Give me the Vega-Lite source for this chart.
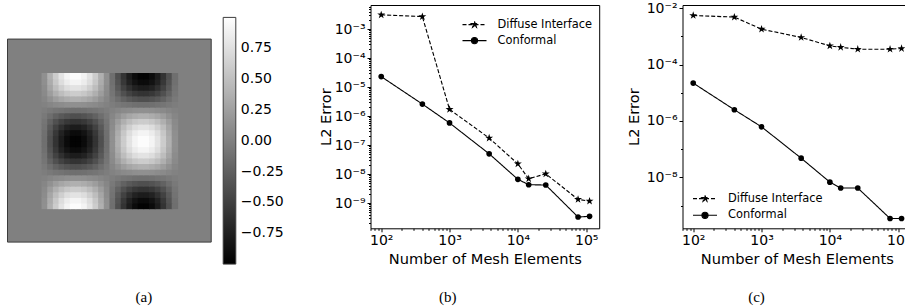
{
"$schema": "https://vega.github.io/schema/vega-lite/v6.json",
"background": "white",
"padding": {"left": 6.5, "top": 0, "right": 0, "bottom": 0},
"spacing": 83,
"bounds": "flush",
"resolve": {"scale": {"fill": "independent", "strokeDash": "independent", "opacity": "independent"}, "legend": {"fill": "independent", "strokeDash": "independent", "opacity": "independent"}},
"config": {
  "font": "DejaVu Sans",
  "view": {"stroke": "black", "strokeWidth": 1},
  "axis": {"grid": false, "domain": false, "tickColor": "black", "tickWidth": 1, "tickSize": 3.5, "labelFont": "DejaVu Sans", "labelFontSize": 14, "labelColor": "black", "labelPadding": 2, "titleFont": "DejaVu Sans", "titleFontSize": 14.6, "titleFontWeight": "normal", "titleColor": "black", "labelOverlap": false, "labelFlush": false},
  "title": {"font": "Liberation Serif", "fontSize": 15, "fontWeight": "normal", "color": "black"}
},
"datasets": {
"heat": [
{"i":0,"j":0,"v":0.13},{"i":1,"j":0,"v":0.38},{"i":2,"j":0,"v":0.6},{"i":3,"j":0,"v":0.78},{"i":4,"j":0,"v":0.91},{"i":5,"j":0,"v":0.98},{"i":6,"j":0,"v":0.98},{"i":7,"j":0,"v":0.91},{"i":8,"j":0,"v":0.78},{"i":9,"j":0,"v":0.6},{"i":10,"j":0,"v":0.38},{"i":11,"j":0,"v":0.13},{"i":12,"j":0,"v":-0.13},{"i":13,"j":0,"v":-0.38},{"i":14,"j":0,"v":-0.6},{"i":15,"j":0,"v":-0.78},{"i":16,"j":0,"v":-0.91},{"i":17,"j":0,"v":-0.98},{"i":18,"j":0,"v":-0.98},{"i":19,"j":0,"v":-0.91},{"i":20,"j":0,"v":-0.78},{"i":21,"j":0,"v":-0.6},{"i":22,"j":0,"v":-0.38},{"i":23,"j":0,"v":-0.13},
{"i":0,"j":1,"v":0.12},{"i":1,"j":1,"v":0.35},{"i":2,"j":1,"v":0.56},{"i":3,"j":1,"v":0.73},{"i":4,"j":1,"v":0.85},{"i":5,"j":1,"v":0.91},{"i":6,"j":1,"v":0.91},{"i":7,"j":1,"v":0.85},{"i":8,"j":1,"v":0.73},{"i":9,"j":1,"v":0.56},{"i":10,"j":1,"v":0.35},{"i":11,"j":1,"v":0.12},{"i":12,"j":1,"v":-0.12},{"i":13,"j":1,"v":-0.35},{"i":14,"j":1,"v":-0.56},{"i":15,"j":1,"v":-0.73},{"i":16,"j":1,"v":-0.85},{"i":17,"j":1,"v":-0.91},{"i":18,"j":1,"v":-0.91},{"i":19,"j":1,"v":-0.85},{"i":20,"j":1,"v":-0.73},{"i":21,"j":1,"v":-0.56},{"i":22,"j":1,"v":-0.35},{"i":23,"j":1,"v":-0.12},
{"i":0,"j":2,"v":0.1},{"i":1,"j":2,"v":0.3},{"i":2,"j":2,"v":0.48},{"i":3,"j":2,"v":0.62},{"i":4,"j":2,"v":0.73},{"i":5,"j":2,"v":0.78},{"i":6,"j":2,"v":0.78},{"i":7,"j":2,"v":0.73},{"i":8,"j":2,"v":0.62},{"i":9,"j":2,"v":0.48},{"i":10,"j":2,"v":0.3},{"i":11,"j":2,"v":0.1},{"i":12,"j":2,"v":-0.1},{"i":13,"j":2,"v":-0.3},{"i":14,"j":2,"v":-0.48},{"i":15,"j":2,"v":-0.62},{"i":16,"j":2,"v":-0.73},{"i":17,"j":2,"v":-0.78},{"i":18,"j":2,"v":-0.78},{"i":19,"j":2,"v":-0.73},{"i":20,"j":2,"v":-0.62},{"i":21,"j":2,"v":-0.48},{"i":22,"j":2,"v":-0.3},{"i":23,"j":2,"v":-0.1},
{"i":0,"j":3,"v":0.08},{"i":1,"j":3,"v":0.23},{"i":2,"j":3,"v":0.37},{"i":3,"j":3,"v":0.48},{"i":4,"j":3,"v":0.56},{"i":5,"j":3,"v":0.6},{"i":6,"j":3,"v":0.6},{"i":7,"j":3,"v":0.56},{"i":8,"j":3,"v":0.48},{"i":9,"j":3,"v":0.37},{"i":10,"j":3,"v":0.23},{"i":11,"j":3,"v":0.08},{"i":12,"j":3,"v":-0.08},{"i":13,"j":3,"v":-0.23},{"i":14,"j":3,"v":-0.37},{"i":15,"j":3,"v":-0.48},{"i":16,"j":3,"v":-0.56},{"i":17,"j":3,"v":-0.6},{"i":18,"j":3,"v":-0.6},{"i":19,"j":3,"v":-0.56},{"i":20,"j":3,"v":-0.48},{"i":21,"j":3,"v":-0.37},{"i":22,"j":3,"v":-0.23},{"i":23,"j":3,"v":-0.08},
{"i":0,"j":4,"v":0.05},{"i":1,"j":4,"v":0.14},{"i":2,"j":4,"v":0.23},{"i":3,"j":4,"v":0.3},{"i":4,"j":4,"v":0.35},{"i":5,"j":4,"v":0.38},{"i":6,"j":4,"v":0.38},{"i":7,"j":4,"v":0.35},{"i":8,"j":4,"v":0.3},{"i":9,"j":4,"v":0.23},{"i":10,"j":4,"v":0.14},{"i":11,"j":4,"v":0.05},{"i":12,"j":4,"v":-0.05},{"i":13,"j":4,"v":-0.14},{"i":14,"j":4,"v":-0.23},{"i":15,"j":4,"v":-0.3},{"i":16,"j":4,"v":-0.35},{"i":17,"j":4,"v":-0.38},{"i":18,"j":4,"v":-0.38},{"i":19,"j":4,"v":-0.35},{"i":20,"j":4,"v":-0.3},{"i":21,"j":4,"v":-0.23},{"i":22,"j":4,"v":-0.14},{"i":23,"j":4,"v":-0.05},
{"i":0,"j":5,"v":0.02},{"i":1,"j":5,"v":0.05},{"i":2,"j":5,"v":0.08},{"i":3,"j":5,"v":0.1},{"i":4,"j":5,"v":0.12},{"i":5,"j":5,"v":0.13},{"i":6,"j":5,"v":0.13},{"i":7,"j":5,"v":0.12},{"i":8,"j":5,"v":0.1},{"i":9,"j":5,"v":0.08},{"i":10,"j":5,"v":0.05},{"i":11,"j":5,"v":0.02},{"i":12,"j":5,"v":-0.02},{"i":13,"j":5,"v":-0.05},{"i":14,"j":5,"v":-0.08},{"i":15,"j":5,"v":-0.1},{"i":16,"j":5,"v":-0.12},{"i":17,"j":5,"v":-0.13},{"i":18,"j":5,"v":-0.13},{"i":19,"j":5,"v":-0.12},{"i":20,"j":5,"v":-0.1},{"i":21,"j":5,"v":-0.08},{"i":22,"j":5,"v":-0.05},{"i":23,"j":5,"v":-0.02},
{"i":0,"j":6,"v":-0.02},{"i":1,"j":6,"v":-0.05},{"i":2,"j":6,"v":-0.08},{"i":3,"j":6,"v":-0.1},{"i":4,"j":6,"v":-0.12},{"i":5,"j":6,"v":-0.13},{"i":6,"j":6,"v":-0.13},{"i":7,"j":6,"v":-0.12},{"i":8,"j":6,"v":-0.1},{"i":9,"j":6,"v":-0.08},{"i":10,"j":6,"v":-0.05},{"i":11,"j":6,"v":-0.02},{"i":12,"j":6,"v":0.02},{"i":13,"j":6,"v":0.05},{"i":14,"j":6,"v":0.08},{"i":15,"j":6,"v":0.1},{"i":16,"j":6,"v":0.12},{"i":17,"j":6,"v":0.13},{"i":18,"j":6,"v":0.13},{"i":19,"j":6,"v":0.12},{"i":20,"j":6,"v":0.1},{"i":21,"j":6,"v":0.08},{"i":22,"j":6,"v":0.05},{"i":23,"j":6,"v":0.02},
{"i":0,"j":7,"v":-0.05},{"i":1,"j":7,"v":-0.14},{"i":2,"j":7,"v":-0.23},{"i":3,"j":7,"v":-0.3},{"i":4,"j":7,"v":-0.35},{"i":5,"j":7,"v":-0.38},{"i":6,"j":7,"v":-0.38},{"i":7,"j":7,"v":-0.35},{"i":8,"j":7,"v":-0.3},{"i":9,"j":7,"v":-0.23},{"i":10,"j":7,"v":-0.14},{"i":11,"j":7,"v":-0.05},{"i":12,"j":7,"v":0.05},{"i":13,"j":7,"v":0.14},{"i":14,"j":7,"v":0.23},{"i":15,"j":7,"v":0.3},{"i":16,"j":7,"v":0.35},{"i":17,"j":7,"v":0.38},{"i":18,"j":7,"v":0.38},{"i":19,"j":7,"v":0.35},{"i":20,"j":7,"v":0.3},{"i":21,"j":7,"v":0.23},{"i":22,"j":7,"v":0.14},{"i":23,"j":7,"v":0.05},
{"i":0,"j":8,"v":-0.08},{"i":1,"j":8,"v":-0.23},{"i":2,"j":8,"v":-0.37},{"i":3,"j":8,"v":-0.48},{"i":4,"j":8,"v":-0.56},{"i":5,"j":8,"v":-0.6},{"i":6,"j":8,"v":-0.6},{"i":7,"j":8,"v":-0.56},{"i":8,"j":8,"v":-0.48},{"i":9,"j":8,"v":-0.37},{"i":10,"j":8,"v":-0.23},{"i":11,"j":8,"v":-0.08},{"i":12,"j":8,"v":0.08},{"i":13,"j":8,"v":0.23},{"i":14,"j":8,"v":0.37},{"i":15,"j":8,"v":0.48},{"i":16,"j":8,"v":0.56},{"i":17,"j":8,"v":0.6},{"i":18,"j":8,"v":0.6},{"i":19,"j":8,"v":0.56},{"i":20,"j":8,"v":0.48},{"i":21,"j":8,"v":0.37},{"i":22,"j":8,"v":0.23},{"i":23,"j":8,"v":0.08},
{"i":0,"j":9,"v":-0.1},{"i":1,"j":9,"v":-0.3},{"i":2,"j":9,"v":-0.48},{"i":3,"j":9,"v":-0.62},{"i":4,"j":9,"v":-0.73},{"i":5,"j":9,"v":-0.78},{"i":6,"j":9,"v":-0.78},{"i":7,"j":9,"v":-0.73},{"i":8,"j":9,"v":-0.62},{"i":9,"j":9,"v":-0.48},{"i":10,"j":9,"v":-0.3},{"i":11,"j":9,"v":-0.1},{"i":12,"j":9,"v":0.1},{"i":13,"j":9,"v":0.3},{"i":14,"j":9,"v":0.48},{"i":15,"j":9,"v":0.62},{"i":16,"j":9,"v":0.73},{"i":17,"j":9,"v":0.78},{"i":18,"j":9,"v":0.78},{"i":19,"j":9,"v":0.73},{"i":20,"j":9,"v":0.62},{"i":21,"j":9,"v":0.48},{"i":22,"j":9,"v":0.3},{"i":23,"j":9,"v":0.1},
{"i":0,"j":10,"v":-0.12},{"i":1,"j":10,"v":-0.35},{"i":2,"j":10,"v":-0.56},{"i":3,"j":10,"v":-0.73},{"i":4,"j":10,"v":-0.85},{"i":5,"j":10,"v":-0.91},{"i":6,"j":10,"v":-0.91},{"i":7,"j":10,"v":-0.85},{"i":8,"j":10,"v":-0.73},{"i":9,"j":10,"v":-0.56},{"i":10,"j":10,"v":-0.35},{"i":11,"j":10,"v":-0.12},{"i":12,"j":10,"v":0.12},{"i":13,"j":10,"v":0.35},{"i":14,"j":10,"v":0.56},{"i":15,"j":10,"v":0.73},{"i":16,"j":10,"v":0.85},{"i":17,"j":10,"v":0.91},{"i":18,"j":10,"v":0.91},{"i":19,"j":10,"v":0.85},{"i":20,"j":10,"v":0.73},{"i":21,"j":10,"v":0.56},{"i":22,"j":10,"v":0.35},{"i":23,"j":10,"v":0.12},
{"i":0,"j":11,"v":-0.13},{"i":1,"j":11,"v":-0.38},{"i":2,"j":11,"v":-0.6},{"i":3,"j":11,"v":-0.78},{"i":4,"j":11,"v":-0.91},{"i":5,"j":11,"v":-0.98},{"i":6,"j":11,"v":-0.98},{"i":7,"j":11,"v":-0.91},{"i":8,"j":11,"v":-0.78},{"i":9,"j":11,"v":-0.6},{"i":10,"j":11,"v":-0.38},{"i":11,"j":11,"v":-0.13},{"i":12,"j":11,"v":0.13},{"i":13,"j":11,"v":0.38},{"i":14,"j":11,"v":0.6},{"i":15,"j":11,"v":0.78},{"i":16,"j":11,"v":0.91},{"i":17,"j":11,"v":0.98},{"i":18,"j":11,"v":0.98},{"i":19,"j":11,"v":0.91},{"i":20,"j":11,"v":0.78},{"i":21,"j":11,"v":0.6},{"i":22,"j":11,"v":0.38},{"i":23,"j":11,"v":0.13},
{"i":0,"j":12,"v":-0.13},{"i":1,"j":12,"v":-0.38},{"i":2,"j":12,"v":-0.6},{"i":3,"j":12,"v":-0.78},{"i":4,"j":12,"v":-0.91},{"i":5,"j":12,"v":-0.98},{"i":6,"j":12,"v":-0.98},{"i":7,"j":12,"v":-0.91},{"i":8,"j":12,"v":-0.78},{"i":9,"j":12,"v":-0.6},{"i":10,"j":12,"v":-0.38},{"i":11,"j":12,"v":-0.13},{"i":12,"j":12,"v":0.13},{"i":13,"j":12,"v":0.38},{"i":14,"j":12,"v":0.6},{"i":15,"j":12,"v":0.78},{"i":16,"j":12,"v":0.91},{"i":17,"j":12,"v":0.98},{"i":18,"j":12,"v":0.98},{"i":19,"j":12,"v":0.91},{"i":20,"j":12,"v":0.78},{"i":21,"j":12,"v":0.6},{"i":22,"j":12,"v":0.38},{"i":23,"j":12,"v":0.13},
{"i":0,"j":13,"v":-0.12},{"i":1,"j":13,"v":-0.35},{"i":2,"j":13,"v":-0.56},{"i":3,"j":13,"v":-0.73},{"i":4,"j":13,"v":-0.85},{"i":5,"j":13,"v":-0.91},{"i":6,"j":13,"v":-0.91},{"i":7,"j":13,"v":-0.85},{"i":8,"j":13,"v":-0.73},{"i":9,"j":13,"v":-0.56},{"i":10,"j":13,"v":-0.35},{"i":11,"j":13,"v":-0.12},{"i":12,"j":13,"v":0.12},{"i":13,"j":13,"v":0.35},{"i":14,"j":13,"v":0.56},{"i":15,"j":13,"v":0.73},{"i":16,"j":13,"v":0.85},{"i":17,"j":13,"v":0.91},{"i":18,"j":13,"v":0.91},{"i":19,"j":13,"v":0.85},{"i":20,"j":13,"v":0.73},{"i":21,"j":13,"v":0.56},{"i":22,"j":13,"v":0.35},{"i":23,"j":13,"v":0.12},
{"i":0,"j":14,"v":-0.1},{"i":1,"j":14,"v":-0.3},{"i":2,"j":14,"v":-0.48},{"i":3,"j":14,"v":-0.62},{"i":4,"j":14,"v":-0.73},{"i":5,"j":14,"v":-0.78},{"i":6,"j":14,"v":-0.78},{"i":7,"j":14,"v":-0.73},{"i":8,"j":14,"v":-0.62},{"i":9,"j":14,"v":-0.48},{"i":10,"j":14,"v":-0.3},{"i":11,"j":14,"v":-0.1},{"i":12,"j":14,"v":0.1},{"i":13,"j":14,"v":0.3},{"i":14,"j":14,"v":0.48},{"i":15,"j":14,"v":0.62},{"i":16,"j":14,"v":0.73},{"i":17,"j":14,"v":0.78},{"i":18,"j":14,"v":0.78},{"i":19,"j":14,"v":0.73},{"i":20,"j":14,"v":0.62},{"i":21,"j":14,"v":0.48},{"i":22,"j":14,"v":0.3},{"i":23,"j":14,"v":0.1},
{"i":0,"j":15,"v":-0.08},{"i":1,"j":15,"v":-0.23},{"i":2,"j":15,"v":-0.37},{"i":3,"j":15,"v":-0.48},{"i":4,"j":15,"v":-0.56},{"i":5,"j":15,"v":-0.6},{"i":6,"j":15,"v":-0.6},{"i":7,"j":15,"v":-0.56},{"i":8,"j":15,"v":-0.48},{"i":9,"j":15,"v":-0.37},{"i":10,"j":15,"v":-0.23},{"i":11,"j":15,"v":-0.08},{"i":12,"j":15,"v":0.08},{"i":13,"j":15,"v":0.23},{"i":14,"j":15,"v":0.37},{"i":15,"j":15,"v":0.48},{"i":16,"j":15,"v":0.56},{"i":17,"j":15,"v":0.6},{"i":18,"j":15,"v":0.6},{"i":19,"j":15,"v":0.56},{"i":20,"j":15,"v":0.48},{"i":21,"j":15,"v":0.37},{"i":22,"j":15,"v":0.23},{"i":23,"j":15,"v":0.08},
{"i":0,"j":16,"v":-0.05},{"i":1,"j":16,"v":-0.14},{"i":2,"j":16,"v":-0.23},{"i":3,"j":16,"v":-0.3},{"i":4,"j":16,"v":-0.35},{"i":5,"j":16,"v":-0.38},{"i":6,"j":16,"v":-0.38},{"i":7,"j":16,"v":-0.35},{"i":8,"j":16,"v":-0.3},{"i":9,"j":16,"v":-0.23},{"i":10,"j":16,"v":-0.14},{"i":11,"j":16,"v":-0.05},{"i":12,"j":16,"v":0.05},{"i":13,"j":16,"v":0.14},{"i":14,"j":16,"v":0.23},{"i":15,"j":16,"v":0.3},{"i":16,"j":16,"v":0.35},{"i":17,"j":16,"v":0.38},{"i":18,"j":16,"v":0.38},{"i":19,"j":16,"v":0.35},{"i":20,"j":16,"v":0.3},{"i":21,"j":16,"v":0.23},{"i":22,"j":16,"v":0.14},{"i":23,"j":16,"v":0.05},
{"i":0,"j":17,"v":-0.02},{"i":1,"j":17,"v":-0.05},{"i":2,"j":17,"v":-0.08},{"i":3,"j":17,"v":-0.1},{"i":4,"j":17,"v":-0.12},{"i":5,"j":17,"v":-0.13},{"i":6,"j":17,"v":-0.13},{"i":7,"j":17,"v":-0.12},{"i":8,"j":17,"v":-0.1},{"i":9,"j":17,"v":-0.08},{"i":10,"j":17,"v":-0.05},{"i":11,"j":17,"v":-0.02},{"i":12,"j":17,"v":0.02},{"i":13,"j":17,"v":0.05},{"i":14,"j":17,"v":0.08},{"i":15,"j":17,"v":0.1},{"i":16,"j":17,"v":0.12},{"i":17,"j":17,"v":0.13},{"i":18,"j":17,"v":0.13},{"i":19,"j":17,"v":0.12},{"i":20,"j":17,"v":0.1},{"i":21,"j":17,"v":0.08},{"i":22,"j":17,"v":0.05},{"i":23,"j":17,"v":0.02},
{"i":0,"j":18,"v":0.02},{"i":1,"j":18,"v":0.05},{"i":2,"j":18,"v":0.08},{"i":3,"j":18,"v":0.1},{"i":4,"j":18,"v":0.12},{"i":5,"j":18,"v":0.13},{"i":6,"j":18,"v":0.13},{"i":7,"j":18,"v":0.12},{"i":8,"j":18,"v":0.1},{"i":9,"j":18,"v":0.08},{"i":10,"j":18,"v":0.05},{"i":11,"j":18,"v":0.02},{"i":12,"j":18,"v":-0.02},{"i":13,"j":18,"v":-0.05},{"i":14,"j":18,"v":-0.08},{"i":15,"j":18,"v":-0.1},{"i":16,"j":18,"v":-0.12},{"i":17,"j":18,"v":-0.13},{"i":18,"j":18,"v":-0.13},{"i":19,"j":18,"v":-0.12},{"i":20,"j":18,"v":-0.1},{"i":21,"j":18,"v":-0.08},{"i":22,"j":18,"v":-0.05},{"i":23,"j":18,"v":-0.02},
{"i":0,"j":19,"v":0.05},{"i":1,"j":19,"v":0.14},{"i":2,"j":19,"v":0.23},{"i":3,"j":19,"v":0.3},{"i":4,"j":19,"v":0.35},{"i":5,"j":19,"v":0.38},{"i":6,"j":19,"v":0.38},{"i":7,"j":19,"v":0.35},{"i":8,"j":19,"v":0.3},{"i":9,"j":19,"v":0.23},{"i":10,"j":19,"v":0.14},{"i":11,"j":19,"v":0.05},{"i":12,"j":19,"v":-0.05},{"i":13,"j":19,"v":-0.14},{"i":14,"j":19,"v":-0.23},{"i":15,"j":19,"v":-0.3},{"i":16,"j":19,"v":-0.35},{"i":17,"j":19,"v":-0.38},{"i":18,"j":19,"v":-0.38},{"i":19,"j":19,"v":-0.35},{"i":20,"j":19,"v":-0.3},{"i":21,"j":19,"v":-0.23},{"i":22,"j":19,"v":-0.14},{"i":23,"j":19,"v":-0.05},
{"i":0,"j":20,"v":0.08},{"i":1,"j":20,"v":0.23},{"i":2,"j":20,"v":0.37},{"i":3,"j":20,"v":0.48},{"i":4,"j":20,"v":0.56},{"i":5,"j":20,"v":0.6},{"i":6,"j":20,"v":0.6},{"i":7,"j":20,"v":0.56},{"i":8,"j":20,"v":0.48},{"i":9,"j":20,"v":0.37},{"i":10,"j":20,"v":0.23},{"i":11,"j":20,"v":0.08},{"i":12,"j":20,"v":-0.08},{"i":13,"j":20,"v":-0.23},{"i":14,"j":20,"v":-0.37},{"i":15,"j":20,"v":-0.48},{"i":16,"j":20,"v":-0.56},{"i":17,"j":20,"v":-0.6},{"i":18,"j":20,"v":-0.6},{"i":19,"j":20,"v":-0.56},{"i":20,"j":20,"v":-0.48},{"i":21,"j":20,"v":-0.37},{"i":22,"j":20,"v":-0.23},{"i":23,"j":20,"v":-0.08},
{"i":0,"j":21,"v":0.1},{"i":1,"j":21,"v":0.3},{"i":2,"j":21,"v":0.48},{"i":3,"j":21,"v":0.62},{"i":4,"j":21,"v":0.73},{"i":5,"j":21,"v":0.78},{"i":6,"j":21,"v":0.78},{"i":7,"j":21,"v":0.73},{"i":8,"j":21,"v":0.62},{"i":9,"j":21,"v":0.48},{"i":10,"j":21,"v":0.3},{"i":11,"j":21,"v":0.1},{"i":12,"j":21,"v":-0.1},{"i":13,"j":21,"v":-0.3},{"i":14,"j":21,"v":-0.48},{"i":15,"j":21,"v":-0.62},{"i":16,"j":21,"v":-0.73},{"i":17,"j":21,"v":-0.78},{"i":18,"j":21,"v":-0.78},{"i":19,"j":21,"v":-0.73},{"i":20,"j":21,"v":-0.62},{"i":21,"j":21,"v":-0.48},{"i":22,"j":21,"v":-0.3},{"i":23,"j":21,"v":-0.1},
{"i":0,"j":22,"v":0.12},{"i":1,"j":22,"v":0.35},{"i":2,"j":22,"v":0.56},{"i":3,"j":22,"v":0.73},{"i":4,"j":22,"v":0.85},{"i":5,"j":22,"v":0.91},{"i":6,"j":22,"v":0.91},{"i":7,"j":22,"v":0.85},{"i":8,"j":22,"v":0.73},{"i":9,"j":22,"v":0.56},{"i":10,"j":22,"v":0.35},{"i":11,"j":22,"v":0.12},{"i":12,"j":22,"v":-0.12},{"i":13,"j":22,"v":-0.35},{"i":14,"j":22,"v":-0.56},{"i":15,"j":22,"v":-0.73},{"i":16,"j":22,"v":-0.85},{"i":17,"j":22,"v":-0.91},{"i":18,"j":22,"v":-0.91},{"i":19,"j":22,"v":-0.85},{"i":20,"j":22,"v":-0.73},{"i":21,"j":22,"v":-0.56},{"i":22,"j":22,"v":-0.35},{"i":23,"j":22,"v":-0.12},
{"i":0,"j":23,"v":0.13},{"i":1,"j":23,"v":0.38},{"i":2,"j":23,"v":0.6},{"i":3,"j":23,"v":0.78},{"i":4,"j":23,"v":0.91},{"i":5,"j":23,"v":0.98},{"i":6,"j":23,"v":0.98},{"i":7,"j":23,"v":0.91},{"i":8,"j":23,"v":0.78},{"i":9,"j":23,"v":0.6},{"i":10,"j":23,"v":0.38},{"i":11,"j":23,"v":0.13},{"i":12,"j":23,"v":-0.13},{"i":13,"j":23,"v":-0.38},{"i":14,"j":23,"v":-0.6},{"i":15,"j":23,"v":-0.78},{"i":16,"j":23,"v":-0.91},{"i":17,"j":23,"v":-0.98},{"i":18,"j":23,"v":-0.98},{"i":19,"j":23,"v":-0.91},{"i":20,"j":23,"v":-0.78},{"i":21,"j":23,"v":-0.6},{"i":22,"j":23,"v":-0.38},{"i":23,"j":23,"v":-0.13}
],
"b": [
{"n":100,"e":3.1e-3,"m":"Diffuse Interface"},{"n":400,"e":2.7e-3,"m":"Diffuse Interface"},{"n":1000,"e":1.7e-6,"m":"Diffuse Interface"},{"n":3800,"e":1.75e-7,"m":"Diffuse Interface"},{"n":10000,"e":2.25e-8,"m":"Diffuse Interface"},{"n":14400,"e":6.9e-9,"m":"Diffuse Interface"},{"n":25600,"e":1.02e-8,"m":"Diffuse Interface"},{"n":76000,"e":1.34e-9,"m":"Diffuse Interface"},{"n":112000,"e":1.17e-9,"m":"Diffuse Interface"},
{"n":100,"e":2.3e-5,"m":"Conformal"},{"n":400,"e":2.6e-6,"m":"Conformal"},{"n":1000,"e":5.8e-7,"m":"Conformal"},{"n":3800,"e":5.0e-8,"m":"Conformal"},{"n":10000,"e":6.6e-9,"m":"Conformal"},{"n":14400,"e":4.3e-9,"m":"Conformal"},{"n":25600,"e":4.2e-9,"m":"Conformal"},{"n":76000,"e":3.3e-10,"m":"Conformal"},{"n":112000,"e":3.5e-10,"m":"Conformal"}
],
"c": [
{"n":100,"e":5.5e-3,"m":"Diffuse Interface"},{"n":400,"e":4.8e-3,"m":"Diffuse Interface"},{"n":1000,"e":1.8e-3,"m":"Diffuse Interface"},{"n":3800,"e":9.1e-4,"m":"Diffuse Interface"},{"n":10000,"e":4.6e-4,"m":"Diffuse Interface"},{"n":14400,"e":4.1e-4,"m":"Diffuse Interface"},{"n":25600,"e":3.5e-4,"m":"Diffuse Interface"},{"n":76000,"e":3.5e-4,"m":"Diffuse Interface"},{"n":112000,"e":3.7e-4,"m":"Diffuse Interface"},
{"n":100,"e":2.2e-5,"m":"Conformal"},{"n":400,"e":2.5e-6,"m":"Conformal"},{"n":1000,"e":6.2e-7,"m":"Conformal"},{"n":3800,"e":4.8e-8,"m":"Conformal"},{"n":10000,"e":6.8e-9,"m":"Conformal"},{"n":14400,"e":4.2e-9,"m":"Conformal"},{"n":25600,"e":4.2e-9,"m":"Conformal"},{"n":76000,"e":3.5e-10,"m":"Conformal"},{"n":112000,"e":3.5e-10,"m":"Conformal"}
]
},
"hconcat": [
{
 "width": 279.3, "height": 237.1,
 "view": {"stroke": null},
 "title": {"text": "(a)", "orient": "bottom", "frame": "group", "anchor": "middle", "dx": -3.3, "offset": 25},
 "layer": [
  {"data": {"values": [{"x0": -6, "x1": 30, "y0": -6, "y1": 30, "v": 0}]},
   "mark": {"type": "rect", "stroke": "#3c3c3c", "strokeWidth": 1},
   "encoding": {
     "x": {"field": "x0", "type": "quantitative", "scale": {"domain": [-6, 43.36], "nice": false, "zero": false}, "axis": null},
     "x2": {"field": "x1"},
     "y": {"field": "y0", "type": "quantitative", "scale": {"domain": [-6, 36.04], "nice": false, "zero": false}, "axis": null},
     "y2": {"field": "y1"},
     "fill": {"field": "v", "type": "quantitative", "scale": {"domain": [-1, 1], "range": ["#000000", "#ffffff"], "interpolate": "rgb"},
       "legend": {"type": "gradient", "title": null, "orient": "none", "legendX": 215.7, "legendY": 12.4, "direction": "vertical", "gradientLength": 246.7, "gradientThickness": 12.6, "gradientStrokeColor": "#3c3c3c", "gradientStrokeWidth": 1, "values": [-0.75, -0.5, -0.25, 0, 0.25, 0.5, 0.75], "format": ".2f", "labelFont": "DejaVu Sans", "labelFontSize": 14, "labelColor": "black", "labelOffset": 5, "labelOverlap": false, "padding": 0}}
   }},
  {"data": {"name": "heat"},
   "mark": {"type": "rect", "binSpacing": -0.8},
   "encoding": {
     "x": {"field": "i", "type": "quantitative", "bin": {"binned": true, "step": 1}, "axis": null},
     "y": {"field": "j", "type": "quantitative", "bin": {"binned": true, "step": 1}, "axis": null},
     "fill": {"field": "v", "type": "quantitative"}
   }}
 ]
},
{
 "width": 228.7, "height": 223.3,
 "data": {"name": "b"},
 "title": {"text": "(b)", "orient": "bottom", "frame": "group", "anchor": "middle", "dx": -37, "offset": 24},
 "resolve": {"axis": {"x": "independent", "y": "independent"}},
 "layer": [
  {"mark": {"type": "line", "color": "black", "strokeWidth": 1.1},
   "encoding": {
     "x": {"field": "n", "type": "quantitative", "scale": {"type": "log", "domain": [69.7, 155000], "nice": false},
       "axis": {"orient": "bottom", "values": [70,80,90,200,300,400,500,600,700,800,900,2000,3000,4000,5000,6000,7000,8000,9000,20000,30000,40000,50000,60000,70000,80000,90000], "labels": false, "tickSize": 2, "title": null}},
     "y": {"field": "e", "type": "quantitative", "scale": {"type": "log", "domain": [1.35e-10, 6.78e-3], "nice": false},
       "axis": {"orient": "left", "values": [2e-10,3e-10,4e-10,5e-10,6e-10,7e-10,8e-10,9e-10,2e-9,3e-9,4e-9,5e-9,6e-9,7e-9,8e-9,9e-9,2e-8,3e-8,4e-8,5e-8,6e-8,7e-8,8e-8,9e-8,2e-7,3e-7,4e-7,5e-7,6e-7,7e-7,8e-7,9e-7,2e-6,3e-6,4e-6,5e-6,6e-6,7e-6,8e-6,9e-6,2e-5,3e-5,4e-5,5e-5,6e-5,7e-5,8e-5,9e-5,2e-4,3e-4,4e-4,5e-4,6e-4,7e-4,8e-4,9e-4,2e-3,3e-3,4e-3,5e-3,6e-3], "labels": false, "tickSize": 2, "title": null}},
     "strokeDash": {"field": "m", "type": "nominal", "scale": {"domain": ["Diffuse Interface", "Conformal"], "range": [[4, 2], [1, 0]]},
       "legend": {"title": null, "values": ["Diffuse Interface"], "orient": "none", "legendX": 91, "legendY": 13.6, "padding": 0, "symbolSize": 100, "symbolOffset": 7, "labelOffset": 17, "labelFont": "DejaVu Sans", "labelFontSize": 11.4, "labelColor": "black",
         "symbolType": "M-2.4,0L2.4,0M0,-0.66L0.148,-0.204L0.628,-0.204L0.24,0.078L0.388,0.534L0,0.252L-0.388,0.534L-0.24,0.078L-0.628,-0.204L-0.148,-0.204Z", "symbolFillColor": "black", "symbolStrokeColor": "black", "symbolStrokeWidth": 1.1}},
     "opacity": {"field": "m", "type": "nominal", "scale": {"domain": ["Conformal"], "range": [1]},
       "legend": {"title": null, "values": ["Conformal"], "orient": "none", "legendX": 91, "legendY": 29.6, "padding": 0, "symbolSize": 100, "symbolOffset": 7, "labelOffset": 17, "labelFont": "DejaVu Sans", "labelFontSize": 11.4, "labelColor": "black",
         "symbolType": "M-2.4,0L2.4,0M0.62,0A0.62,0.62,0,1,1,-0.62,0A0.62,0.62,0,1,1,0.62,0Z", "symbolFillColor": "black", "symbolStrokeColor": "black", "symbolStrokeWidth": 1.1, "symbolOpacity": 1}}
   }},
  {"transform": [{"filter": "datum.m === 'Diffuse Interface'"}],
   "mark": {"type": "point", "filled": true, "color": "black", "opacity": 1, "size": 70, "shape": "M0,-1L0.225,-0.309L0.951,-0.309L0.363,0.118L0.588,0.809L0,0.382L-0.588,0.809L-0.363,0.118L-0.951,-0.309L-0.225,-0.309Z"},
   "encoding": {
     "x": {"field": "n", "type": "quantitative", "scale": {"type": "log", "domain": [69.7, 155000], "nice": false},
       "axis": {"orient": "bottom", "values": [100, 1000, 10000, 100000], "labelExpr": "'10' + (datum.value < 1 ? '⁻' : '') + substring('⁰¹²³⁴⁵⁶⁷⁸⁹', abs(round(log(datum.value) / LN10)), abs(round(log(datum.value) / LN10)) + 1)", "title": "Number of Mesh Elements", "titlePadding": 4}},
     "y": {"field": "e", "type": "quantitative", "scale": {"type": "log", "domain": [1.35e-10, 6.78e-3], "nice": false},
       "axis": {"orient": "left", "values": [1e-9, 1e-8, 1e-7, 1e-6, 1e-5, 1e-4, 1e-3], "labelExpr": "'10' + (datum.value < 1 ? '⁻' : '') + substring('⁰¹²³⁴⁵⁶⁷⁸⁹', abs(round(log(datum.value) / LN10)), abs(round(log(datum.value) / LN10)) + 1)", "title": "L2 Error", "titlePadding": 1}}
   }},
  {"transform": [{"filter": "datum.m === 'Conformal'"}],
   "mark": {"type": "point", "filled": true, "color": "black", "opacity": 1, "size": 32, "shape": "circle"},
   "encoding": {
     "x": {"field": "n", "type": "quantitative", "scale": {"type": "log", "domain": [69.7, 155000], "nice": false}, "axis": null},
     "y": {"field": "e", "type": "quantitative", "scale": {"type": "log", "domain": [1.35e-10, 6.78e-3], "nice": false}, "axis": null}
   }}
 ]
},
{
 "width": 228.7, "height": 223.3,
 "data": {"name": "c"},
 "title": {"text": "(c)", "orient": "bottom", "frame": "group", "anchor": "middle", "dx": -40.3, "offset": 24},
 "resolve": {"axis": {"x": "independent", "y": "independent"}},
 "layer": [
  {"mark": {"type": "line", "color": "black", "strokeWidth": 1.1},
   "encoding": {
     "x": {"field": "n", "type": "quantitative", "scale": {"type": "log", "domain": [69.7, 155000], "nice": false},
       "axis": {"orient": "bottom", "values": [70,80,90,200,300,400,500,600,700,800,900,2000,3000,4000,5000,6000,7000,8000,9000,20000,30000,40000,50000,60000,70000,80000,90000], "labels": false, "tickSize": 2, "title": null}},
     "y": {"field": "e", "type": "quantitative", "scale": {"type": "log", "domain": [1.57e-10, 1.29e-2], "nice": false},
       "axis": {"orient": "left", "values": [1e-9, 1e-7, 1e-5, 1e-3], "labels": false, "tickSize": 2, "title": null}},
     "strokeDash": {"field": "m", "type": "nominal", "scale": {"domain": ["Diffuse Interface", "Conformal"], "range": [[4, 2], [1, 0]]},
       "legend": {"title": null, "values": ["Diffuse Interface"], "orient": "none", "legendX": 9.5, "legendY": 187.6, "padding": 0, "symbolSize": 100, "symbolOffset": 7, "labelOffset": 17, "labelFont": "DejaVu Sans", "labelFontSize": 11.4, "labelColor": "black",
         "symbolType": "M-2.4,0L2.4,0M0,-0.66L0.148,-0.204L0.628,-0.204L0.24,0.078L0.388,0.534L0,0.252L-0.388,0.534L-0.24,0.078L-0.628,-0.204L-0.148,-0.204Z", "symbolFillColor": "black", "symbolStrokeColor": "black", "symbolStrokeWidth": 1.1}},
     "opacity": {"field": "m", "type": "nominal", "scale": {"domain": ["Conformal"], "range": [1]},
       "legend": {"title": null, "values": ["Conformal"], "orient": "none", "legendX": 9.5, "legendY": 204.3, "padding": 0, "symbolSize": 100, "symbolOffset": 7, "labelOffset": 17, "labelFont": "DejaVu Sans", "labelFontSize": 11.4, "labelColor": "black",
         "symbolType": "M-2.4,0L2.4,0M0.62,0A0.62,0.62,0,1,1,-0.62,0A0.62,0.62,0,1,1,0.62,0Z", "symbolFillColor": "black", "symbolStrokeColor": "black", "symbolStrokeWidth": 1.1, "symbolOpacity": 1}}
   }},
  {"transform": [{"filter": "datum.m === 'Diffuse Interface'"}],
   "mark": {"type": "point", "filled": true, "color": "black", "opacity": 1, "size": 70, "shape": "M0,-1L0.225,-0.309L0.951,-0.309L0.363,0.118L0.588,0.809L0,0.382L-0.588,0.809L-0.363,0.118L-0.951,-0.309L-0.225,-0.309Z"},
   "encoding": {
     "x": {"field": "n", "type": "quantitative", "scale": {"type": "log", "domain": [69.7, 155000], "nice": false},
       "axis": {"orient": "bottom", "values": [100, 1000, 10000, 100000], "labelExpr": "'10' + (datum.value < 1 ? '⁻' : '') + substring('⁰¹²³⁴⁵⁶⁷⁸⁹', abs(round(log(datum.value) / LN10)), abs(round(log(datum.value) / LN10)) + 1)", "title": "Number of Mesh Elements", "titlePadding": 4}},
     "y": {"field": "e", "type": "quantitative", "scale": {"type": "log", "domain": [1.57e-10, 1.29e-2], "nice": false},
       "axis": {"orient": "left", "values": [1e-8, 1e-6, 1e-4, 1e-2], "labelExpr": "'10' + (datum.value < 1 ? '⁻' : '') + substring('⁰¹²³⁴⁵⁶⁷⁸⁹', abs(round(log(datum.value) / LN10)), abs(round(log(datum.value) / LN10)) + 1)", "title": "L2 Error", "titlePadding": 5}}
   }},
  {"transform": [{"filter": "datum.m === 'Conformal'"}],
   "mark": {"type": "point", "filled": true, "color": "black", "opacity": 1, "size": 32, "shape": "circle"},
   "encoding": {
     "x": {"field": "n", "type": "quantitative", "scale": {"type": "log", "domain": [69.7, 155000], "nice": false}, "axis": null},
     "y": {"field": "e", "type": "quantitative", "scale": {"type": "log", "domain": [1.57e-10, 1.29e-2], "nice": false}, "axis": null}
   }}
 ]
}
]
}
